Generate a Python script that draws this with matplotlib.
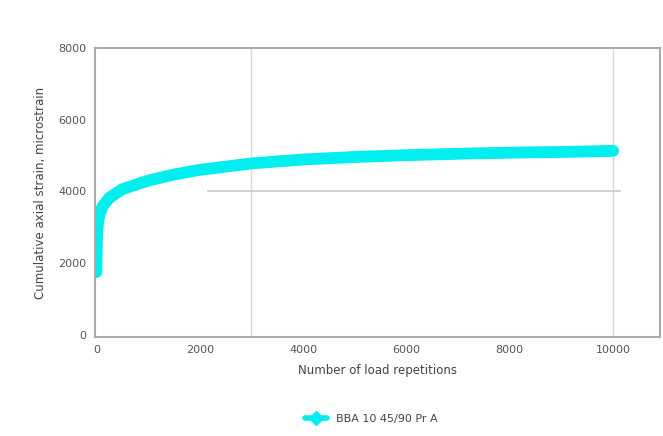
import numpy as np
import matplotlib
matplotlib.use('Agg')
from matplotlib import pyplot as plt
from matplotlib.lines import Line2D

# load repetitions vs cumulative axial strain
reps = [0, 5, 15, 30, 60, 120, 250, 500, 1000, 1500, 2000, 3000, 4000,
        5000, 6000, 7000, 8000, 9000, 10000]
strain = [1750, 2300, 2800, 3100, 3350, 3580, 3820, 4060, 4300, 4470, 4600,
          4780, 4890, 4960, 5010, 5050, 5080, 5100, 5130]
series_name = 'BBA 10 45/90 Pr A'

xticks = [0, 2000, 4000, 6000, 8000, 10000]
yticks = [0, 2000, 4000, 6000, 8000]

fig = plt.figure(figsize=(6.63, 4.36), dpi=100)
ax = fig.add_axes([0.143, 0.227, 0.852, 0.663])

ax.plot(reps, strain, color='#00eeee', lw=8.5, solid_capstyle='round',
        solid_joinstyle='round')

# odd grid lines as in the scanned chart
ax.axvline(3000, color='#d8d8d8', lw=1, zorder=0)
ax.axvline(10000, color='#d8d8d8', lw=1, zorder=0)
ax.axhline(4000, color='#c8c8c8', lw=1.2, zorder=0, xmin=0.2, xmax=0.93)

ax.set_xlim(-30, 10900)
ax.set_ylim(-60, 8000)
ax.set_xticks(xticks)
ax.set_yticks(yticks)
ax.tick_params(labelsize=8, colors='#555555', length=0, pad=6)
for s in ax.spines.values():
    s.set_color('#aaaaaa')
    s.set_linewidth(1.5)

ax.set_xlabel('Number of load repetitions', fontsize=8.5, color='#444444', labelpad=6)
ax.set_ylabel('Cumulative axial strain, microstrain', fontsize=8.5,
              color='#444444', labelpad=8)

handle = Line2D([], [], color='#00eeee', lw=4, marker='D', ms=7,
                solid_capstyle='round')
leg = fig.legend([handle], [series_name], loc='lower center',
                 bbox_to_anchor=(0.56, 0.005), frameon=False,
                 fontsize=8, handlelength=2.0)
for t in leg.get_texts():
    t.set_color('#444444')

fig.savefig('out.png', dpi=100)
